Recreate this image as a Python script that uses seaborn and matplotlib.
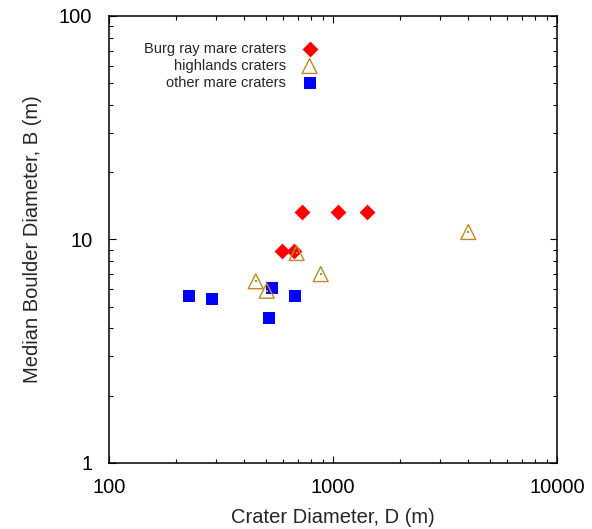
import matplotlib
matplotlib.use("Agg")
import matplotlib.pyplot as plt
import seaborn as sns

# crater diameter D (m) and median boulder diameter B (m)
burg_D = [590, 672, 729, 1056, 1413]
burg_B = [8.9, 8.9, 13.3, 13.3, 13.3]

highlands_D = [452, 506, 688, 881, 4018]
highlands_B = [6.5, 5.9, 8.7, 7.0, 10.8]

other_D = [228, 289, 536, 520, 679]
other_B = [5.57, 5.40, 6.05, 4.44, 5.57]

x_ticks = [100, 1000, 10000]
y_ticks = [1, 10, 100]

RED = "#FF0000"
GOLD = "#C08A22"
BLUE = "#0000FF"

sns.set_theme(style="ticks")
plt.rcParams["font.family"] = ["Liberation Sans", "DejaVu Sans"]

fig, ax = plt.subplots(figsize=(5.92, 5.29), dpi=100)
fig.subplots_adjust(left=0.1841, right=0.9409, top=0.9698, bottom=0.1248)

sns.scatterplot(x=burg_D, y=burg_B, ax=ax, marker="D", s=65, color=RED,
                edgecolor=RED, linewidth=0, label="Burg ray mare craters", zorder=3)
sns.scatterplot(x=highlands_D, y=highlands_B, ax=ax, marker="^", s=115,
                facecolor="none", edgecolor=GOLD, linewidth=1.0,
                label="highlands craters", zorder=4)
sns.scatterplot(x=highlands_D, y=highlands_B, ax=ax, marker="s", s=1.5,
                color=GOLD, edgecolor=GOLD, linewidth=0, zorder=4, legend=False)
sns.scatterplot(x=other_D, y=other_B, ax=ax, marker="s", s=70, color=BLUE,
                edgecolor=BLUE, linewidth=0, label="other mare craters", zorder=3)

ax.set_xscale("log")
ax.set_yscale("log")
ax.set_xlim(100, 10000)
ax.set_ylim(1, 100)
ax.set_xticks(x_ticks)
ax.set_xticklabels([str(t) for t in x_ticks])
ax.set_yticks(y_ticks)
ax.set_yticklabels([str(t) for t in y_ticks])

ax.tick_params(which="both", direction="in", top=True, right=True, colors="black")
ax.tick_params(which="major", length=5, width=0.8, labelsize=14.5)
ax.tick_params(axis="x", which="major", pad=11)
ax.tick_params(axis="y", which="major", pad=12)
ax.tick_params(which="minor", length=3, width=0.8)
for sp in ax.spines.values():
    sp.set_color("black")
    sp.set_linewidth(1.1)

ax.set_xlabel("Crater Diameter, D (m)", fontsize=14.5, labelpad=8)
ax.set_ylabel("Median Boulder Diameter, B (m)", fontsize=14.5, labelpad=12)

ax.legend(loc="upper right", bbox_to_anchor=(0.464, 0.942), frameon=False,
          markerfirst=False, fontsize=10.5, handlelength=1.0, handletextpad=1.1,
          labelspacing=0.2, borderpad=0, borderaxespad=0)

fig.savefig("out.png", dpi=100)
